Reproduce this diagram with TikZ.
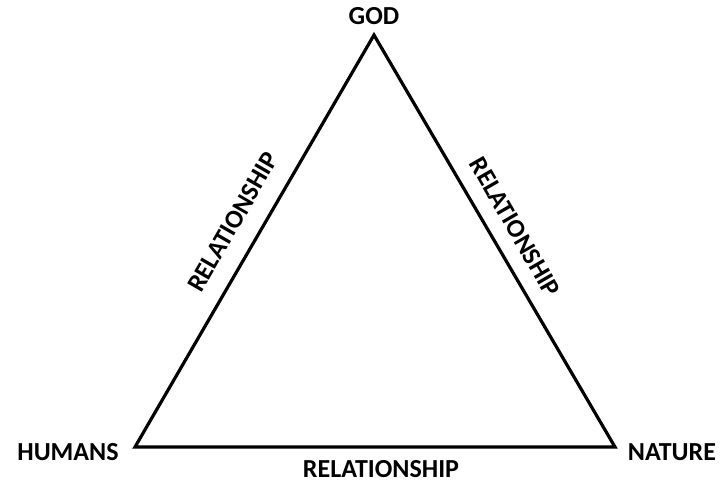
\documentclass[tikz,border=0pt]{standalone}
\usepackage{fontspec}
\setmainfont{Carlito}
\usetikzlibrary{positioning}
\tikzset{
  corner/.style={font=\bfseries\fontsize{26}{30}\selectfont, inner sep=1pt},
  side label/.style={font=\bfseries\fontsize{26}{30}\selectfont, inner sep=1pt},
  side/.style={line width=3.2pt, line join=miter},
}

\begin{document}
\begin{tikzpicture}[x=1pt, y=-1pt]

  \useasboundingbox (0,0) rectangle (721,483);

  % Define nodes
  \coordinate (top) at (374,35);
  \coordinate (left) at (135,447);
  \coordinate (right) at (615,447);
  \node[corner] (god) at (374,16) {GOD};
  \node[corner] (humans) at (68,452) {HUMANS};
  \node[corner] (nature) at (672,452) {NATURE};

  % Connect nodes
  \draw[side] (top) -- (left) -- (right) -- cycle;
  \node[side label, rotate=60] (rel1) at (233,222) {RELATIONSHIP};
  \node[side label, rotate=-60] (rel2) at (515,227) {RELATIONSHIP};
  \node[corner] (rel3) at (381,469) {RELATIONSHIP};

\end{tikzpicture}
\end{document}
